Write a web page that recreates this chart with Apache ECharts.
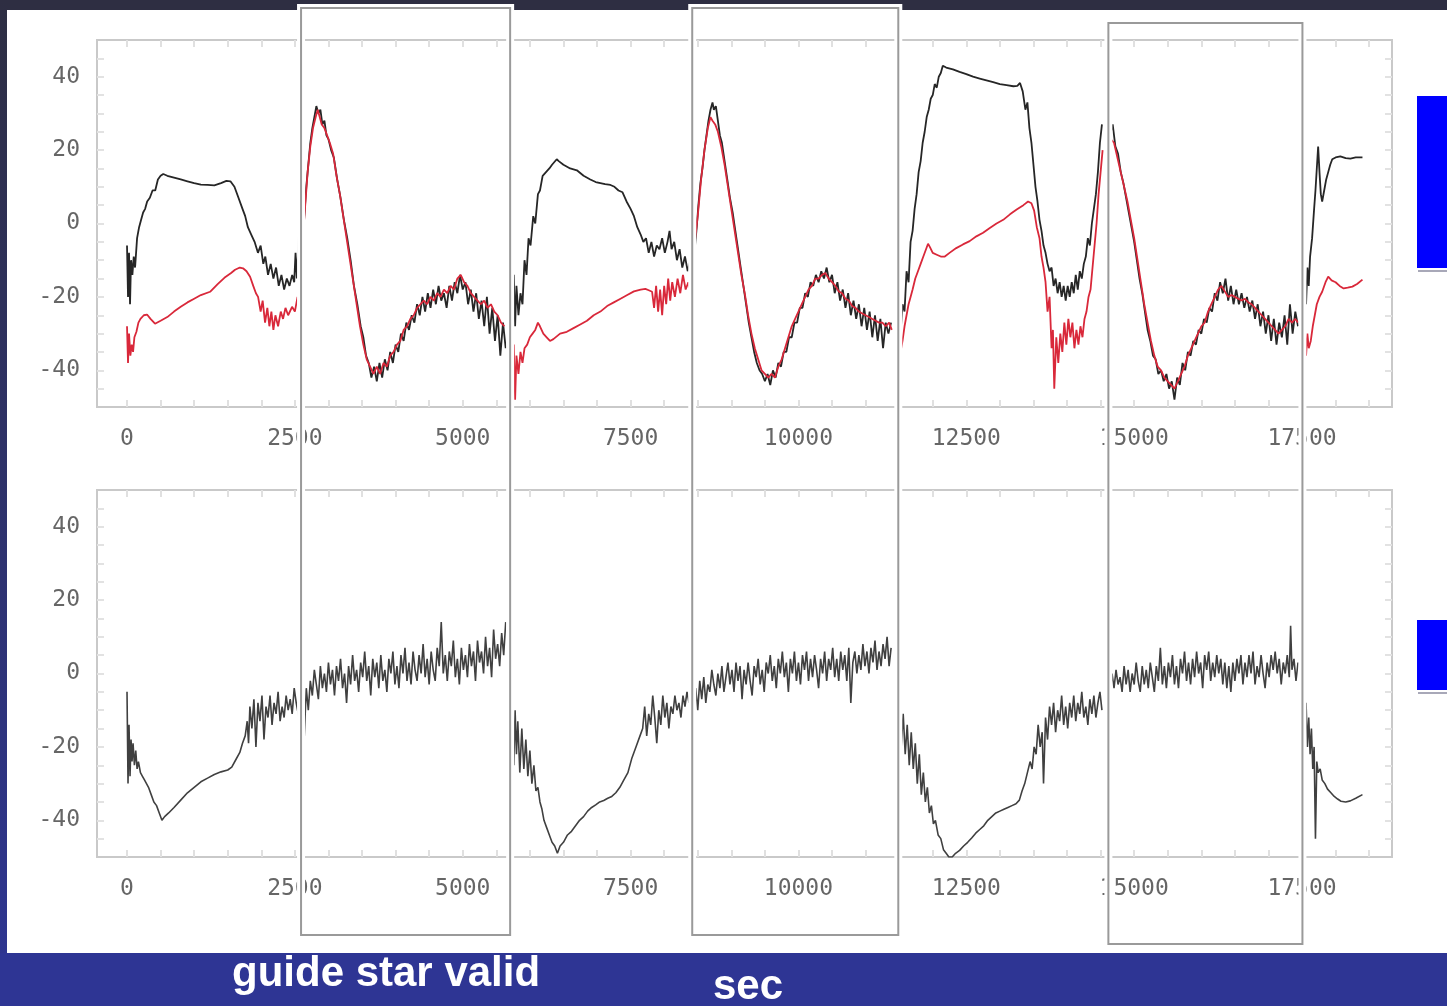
<!DOCTYPE html>
<html><head><meta charset="utf-8">
<script src="https://cdn.jsdelivr.net/npm/echarts@6/dist/echarts.min.js"></script>
<style>html,body{margin:0;padding:0;background:#2e2e42;}#c{width:1447px;height:1006px;}</style>
</head><body><div id="c"></div>
<script>
// ---- axis ticks ----
const xTickLabels = [0, 2500, 5000, 7500, 10000, 12500, 15000, 17500];
const yTickLabels = [-40, -20, 0, 20, 40];
// guide star valid windows (sec)
const validWindows = [[2592, 5706], [8418, 11487], [14616, 17506]];
const footerLabels = ['guide star valid', 'sec'];

// ---- top panel, black trace ----
const topBlack1 = [[0,-6],[15,-20],[30,-8],[45,-22],[60,-10],[80,-14],[100,-9],[120,-12],[150,-4],[180,-1],[210,1],[240,3],[270,4],[300,6],[340,7],[380,9],[420,9],[460,12],[500,13],[540,13.5],[600,13],[700,12.5],[800,12],[900,11.5],[1000,11],[1100,10.6],[1200,10.5],[1300,10.4],[1400,11],[1480,11.6],[1540,11.5],[1600,10],[1660,7],[1720,4],[1760,2],[1800,-1],[1850,-3],[1900,-5],[1950,-8],[1990,-6],[2030,-11],[2060,-9],[2100,-14],[2140,-11],[2180,-15],[2220,-12],[2260,-17],[2300,-14],[2340,-18],[2380,-15],[2420,-17],[2460,-14],[2490,-16],[2510,-8],[2530,-15],[2560,-3],[2580,-10]];
const topBlackBox1 = [[2610,-8],[2640,2],[2670,10],[2700,16],[2730,22],[2760,26],[2790,29],[2820,32],[2850,30],[2880,31],[2910,27],[2940,28],[2970,24],[3000,23],[3040,20],[3080,18],[3130,12],[3180,7],[3230,1],[3280,-4],[3330,-10],[3380,-17],[3430,-22],[3480,-28],[3520,-31],[3560,-36],[3600,-38],[3640,-42],[3680,-39],[3720,-43],[3760,-38],[3800,-42],[3840,-37],[3880,-40],[3920,-35],[3960,-38],[4000,-33],[4040,-35],[4080,-30],[4120,-32],[4160,-27],[4200,-29],[4240,-25],[4280,-27],[4320,-22],[4360,-25],[4400,-20],[4440,-24],[4480,-19],[4520,-23],[4560,-18],[4600,-22],[4640,-17],[4680,-21],[4720,-19],[4760,-23],[4800,-17],[4840,-21],[4880,-16],[4920,-19],[4960,-14],[5000,-18],[5040,-16],[5080,-22],[5120,-18],[5160,-24],[5200,-19],[5240,-26],[5280,-21],[5320,-28],[5360,-20],[5400,-30],[5440,-23],[5480,-32],[5520,-25],[5560,-36],[5600,-27],[5640,-34]];
const topBlack2 = [[5720,-20],[5740,-32],[5760,-14],[5780,-28],[5800,-17],[5830,-25],[5860,-19],[5890,-22],[5920,-10],[5950,-14],[5980,-4],[6010,-6],[6050,2],[6080,0],[6120,8],[6150,9],[6190,13],[6240,14],[6290,15],[6330,16],[6400,17.5],[6430,17],[6500,16],[6600,15],[6700,14.5],[6800,13],[6900,12],[6980,11.3],[7050,11],[7120,10.7],[7200,10.5],[7260,10],[7320,9],[7380,8.5],[7440,6],[7500,4],[7550,2],[7600,-1],[7650,-3],[7690,-5],[7730,-4],[7770,-8],[7810,-5],[7850,-9],[7890,-6],[7930,-7],[7970,-4],[8010,-8],[8050,-5],[8080,-2],[8110,-7],[8150,-5],[8190,-10],[8230,-7],[8270,-12],[8310,-9],[8350,-13],[8390,-10]];
const topBlackBox2 = [[8450,-8],[8480,-2],[8510,5],[8540,11],[8570,15],[8600,20],[8630,24],[8660,28],[8690,31],[8720,33],[8740,31],[8770,32],[8800,28],[8830,24],[8860,22],[8900,17],[8940,12],[8980,7],[9020,3],[9060,-2],[9100,-7],[9140,-12],[9180,-17],[9220,-22],[9260,-27],[9300,-31],[9340,-35],[9380,-38],[9420,-40],[9460,-41],[9500,-43],[9540,-41],[9580,-44],[9620,-40],[9660,-42],[9700,-38],[9740,-39],[9780,-35],[9820,-35],[9860,-31],[9900,-31],[9940,-27],[9980,-27],[10020,-23],[10060,-23],[10100,-19],[10140,-20],[10180,-16],[10220,-17],[10260,-14],[10300,-16],[10340,-13],[10380,-15],[10420,-12],[10460,-16],[10500,-14],[10540,-19],[10580,-16],[10620,-21],[10660,-18],[10700,-23],[10740,-19],[10780,-25],[10820,-21],[10860,-26],[10900,-22],[10940,-28],[10980,-23],[11020,-29],[11060,-24],[11100,-31],[11140,-25],[11180,-32],[11220,-26],[11260,-34],[11300,-27],[11340,-30],[11380,-27]];
const topBlack3 = [[11460,-28],[11490,-18],[11520,-30],[11550,-22],[11580,-24],[11610,-13],[11640,-16],[11670,-5],[11700,-2],[11730,4],[11760,8],[11790,14],[11820,17],[11850,22],[11880,25],[11910,29],[11940,31],[11970,34],[12000,35],[12030,38],[12060,37],[12090,40],[12120,41],[12150,43],[12200,42.5],[12300,42],[12400,41.3],[12500,40.7],[12600,40],[12700,39.5],[12800,39],[12900,38.5],[13000,38],[13100,37.7],[13200,37.4],[13260,37.5],[13300,38.3],[13340,36],[13380,31],[13410,33],[13440,26],[13470,22],[13500,16],[13530,10],[13560,6],[13590,1],[13620,-2],[13650,-6],[13680,-8],[13710,-11],[13740,-13],[13770,-12],[13800,-17],[13830,-15],[13860,-19],[13890,-16],[13920,-20],[13950,-17],[13980,-21],[14010,-17],[14040,-20],[14070,-16],[14100,-19],[14130,-14],[14160,-18],[14190,-13],[14220,-15],[14250,-11],[14280,-9],[14310,-4],[14340,-6],[14370,0],[14400,4],[14430,8],[14460,14],[14490,22],[14520,27]];
const topBlackBox3 = [[14610,28],[14640,24],[14680,27],[14720,21],[14760,19],[14800,14],[14840,11],[14880,7],[14920,3],[14960,-1],[15000,-5],[15040,-10],[15080,-15],[15120,-19],[15160,-24],[15200,-29],[15240,-32],[15280,-36],[15320,-37],[15360,-41],[15400,-40],[15440,-43],[15480,-41],[15520,-45],[15560,-43],[15600,-48],[15640,-42],[15680,-44],[15720,-38],[15760,-40],[15800,-35],[15840,-36],[15880,-32],[15920,-33],[15960,-29],[16000,-30],[16040,-26],[16080,-27],[16120,-23],[16160,-24],[16200,-19],[16240,-21],[16280,-16],[16320,-19],[16360,-15],[16400,-21],[16440,-17],[16480,-22],[16520,-18],[16560,-22],[16600,-19],[16640,-23],[16680,-20],[16720,-24],[16760,-21],[16800,-26],[16840,-22],[16880,-28],[16920,-24],[16960,-30],[17000,-25],[17040,-32],[17080,-26],[17120,-33],[17160,-27],[17200,-31],[17240,-25],[17280,-33],[17320,-22],[17360,-30],[17400,-24],[17440,-28]];
const topBlack4 = [[17520,-20],[17540,-14],[17560,-22],[17580,-12],[17600,-17],[17620,-9],[17650,-4],[17680,4],[17700,9],[17720,15],[17740,21],[17760,14],[17780,8],[17800,6],[17830,9],[17860,12],[17890,14],[17920,16],[17950,17.5],[18000,18],[18070,18.3],[18150,17.8],[18220,17.7],[18300,18],[18400,18]];

// ---- top panel, red trace ----
const topRed1 = [[0,-28],[15,-38],[30,-30],[50,-36],[70,-33],[90,-35],[110,-31],[140,-29.5],[170,-27],[200,-26],[250,-25],[298,-24.8],[350,-26],[417,-27.3],[500,-26.5],[600,-25.5],[700,-24],[800,-22.7],[900,-21.5],[1000,-20.5],[1100,-19.5],[1237,-18.6],[1350,-16.5],[1450,-14.8],[1550,-13.5],[1609,-12.6],[1680,-12],[1728,-12.2],[1780,-13],[1833,-14.5],[1880,-17],[1920,-19],[1952,-20],[1990,-24],[2020,-21],[2056,-27],[2090,-23],[2120,-28],[2150,-24],[2180,-29],[2210,-25],[2250,-28],[2290,-24],[2324,-26],[2360,-23],[2400,-25],[2458,-22.7],[2500,-24],[2540,-20],[2580,-23]];
const topRedBox1 = [[2610,-6],[2650,4],[2690,14],[2730,21],[2770,26],[2810,29],[2840,31],[2870,29],[2900,27],[2940,26],[2980,24],[3020,22],[3070,19],[3120,13],[3170,8],[3220,2],[3270,-4],[3320,-10],[3370,-16],[3420,-22],[3470,-28],[3520,-33],[3570,-37],[3620,-39],[3670,-41],[3720,-39],[3770,-41],[3820,-38],[3870,-39],[3920,-36],[3970,-35],[4020,-33],[4070,-32],[4120,-29],[4170,-28],[4220,-26],[4270,-25],[4320,-23],[4370,-22],[4420,-21],[4470,-22],[4520,-20],[4570,-21],[4620,-19],[4670,-20],[4720,-18],[4770,-19],[4820,-17],[4870,-18],[4920,-15],[4970,-14],[5020,-16],[5070,-17],[5120,-19],[5170,-20],[5220,-21],[5270,-22],[5320,-21],[5370,-23],[5420,-22],[5470,-24],[5520,-25],[5570,-27],[5620,-28]];
const topRed2 = [[5720,-30],[5740,-45],[5760,-33],[5780,-48],[5800,-36],[5830,-41],[5860,-35],[5890,-38],[5920,-34],[5960,-33],[6000,-31],[6040,-30],[6080,-29],[6120,-27],[6150,-28],[6200,-30],[6250,-31],[6300,-32],[6350,-31.5],[6450,-30],[6550,-29.5],[6650,-28.5],[6750,-27.5],[6850,-26.5],[6950,-25],[7050,-24],[7150,-22.5],[7250,-21.5],[7350,-20.5],[7450,-19.5],[7550,-18.5],[7650,-18],[7720,-17.8],[7770,-18.2],[7820,-18.6],[7850,-23],[7880,-17],[7910,-24],[7940,-18],[7970,-25],[8000,-17],[8030,-22],[8060,-15],[8090,-21],[8120,-16],[8160,-20],[8200,-15],[8240,-19],[8280,-14],[8320,-18],[8360,-16],[8400,-19]];
const topRedBox2 = [[8450,-6],[8500,2],[8550,12],[8600,20],[8650,26],[8690,29],[8720,28],[8760,27],[8800,25],[8850,21],[8900,16],[8950,10],[9000,4],[9050,-2],[9100,-8],[9150,-14],[9200,-19],[9250,-25],[9300,-30],[9350,-34],[9400,-37],[9450,-40],[9500,-41],[9550,-42],[9600,-41],[9650,-42],[9700,-39],[9750,-37],[9800,-34],[9850,-31],[9900,-28],[9950,-26],[10000,-24],[10050,-22],[10100,-20],[10150,-18],[10200,-17],[10250,-15],[10300,-15],[10350,-14],[10400,-13.5],[10450,-15],[10500,-16],[10550,-17],[10600,-18.5],[10650,-19],[10700,-20.5],[10750,-21],[10800,-22.5],[10850,-23],[10900,-24],[10950,-24.5],[11000,-25],[11050,-25.5],[11100,-26],[11150,-26.5],[11200,-27],[11250,-27],[11300,-28],[11350,-27],[11390,-29]];
const topRed3 = [[11460,-36],[11490,-30],[11520,-35],[11550,-32],[11580,-28],[11610,-25],[11640,-22],[11670,-20],[11700,-18],[11740,-15],[11780,-13],[11820,-11],[11860,-9],[11900,-7],[11930,-5.5],[11960,-6.5],[12000,-8],[12060,-8.5],[12120,-9],[12180,-9],[12250,-8],[12350,-6.7],[12450,-5.7],[12550,-4.8],[12650,-3.5],[12750,-2.5],[12850,-1.2],[12950,0],[13050,1],[13150,2.5],[13250,3.8],[13350,5],[13420,6],[13470,5.5],[13510,3.5],[13550,-1],[13590,-4],[13620,-9],[13650,-12],[13680,-16],[13710,-24],[13740,-20],[13770,-34],[13790,-29],[13810,-45],[13840,-31],[13870,-38],[13900,-30],[13930,-35],[13960,-27],[13990,-33],[14020,-26],[14050,-31],[14080,-27],[14110,-34],[14140,-29],[14170,-33],[14200,-28],[14230,-31],[14260,-26],[14290,-24],[14320,-20],[14350,-18],[14380,-12],[14410,-6],[14440,0],[14470,8],[14500,14],[14530,20]];
const topRedBox3 = [[14610,25],[14650,23],[14700,22],[14750,18],[14800,14],[14850,10],[14900,6],[14950,1],[15000,-4],[15050,-10],[15100,-16],[15150,-22],[15200,-27],[15250,-32],[15300,-36],[15350,-39],[15400,-40],[15450,-42],[15500,-43],[15550,-44],[15600,-45],[15650,-43],[15700,-41],[15750,-39],[15800,-36],[15850,-34],[15900,-32],[15950,-30],[16000,-28],[16050,-27],[16100,-24],[16150,-22],[16200,-20],[16250,-18],[16300,-17],[16350,-18.5],[16400,-20],[16450,-19.5],[16500,-20],[16550,-20.5],[16600,-21],[16650,-20.5],[16700,-21.5],[16750,-22],[16800,-23],[16850,-24],[16900,-25],[16950,-26],[17000,-27],[17050,-28],[17100,-29],[17150,-30],[17200,-29],[17250,-28],[17300,-26],[17350,-27],[17400,-26],[17440,-27]];
const topRed4 = [[17520,-34],[17540,-28],[17560,-36],[17580,-30],[17600,-34],[17630,-32],[17660,-28],[17690,-25],[17720,-22],[17760,-20],[17800,-18.6],[17850,-16],[17890,-14.5],[17940,-15.5],[18000,-16],[18060,-17],[18120,-17.7],[18180,-17.5],[18250,-17.2],[18320,-16.5],[18400,-15.3]];

// ---- bottom panel trace ----
const bot1 = [[0,-5],[15,-30],[30,-14],[45,-28],[60,-18],[75,-24],[90,-19],[110,-25],[130,-21],[150,-26],[170,-24],[200,-27],[230,-28],[260,-29],[290,-30],[320,-31],[360,-33],[400,-35],[440,-36],[480,-38],[520,-40],[560,-39],[620,-38],[700,-36.5],[800,-34.5],[900,-32.5],[1000,-31],[1100,-29.5],[1200,-28.5],[1300,-27.5],[1400,-26.8],[1500,-26.3],[1560,-25.5],[1620,-23.5],[1680,-21.5],[1720,-19],[1760,-17],[1790,-13],[1810,-19],[1830,-9],[1860,-15],[1890,-7],[1920,-20],[1950,-8],[1980,-13],[2010,-6],[2040,-18],[2070,-9],[2100,-12],[2130,-6],[2160,-14],[2190,-8],[2220,-11],[2250,-5],[2280,-13],[2310,-9],[2340,-12],[2370,-6],[2400,-10],[2430,-7],[2460,-11],[2490,-4],[2520,-8],[2560,-12],[2590,-6]];
const botBox1 = [[2610,-9],[2640,-17],[2670,-4],[2700,-10],[2730,-2],[2760,-6],[2790,1],[2820,-3],[2850,-7],[2880,2],[2910,-4],[2940,0],[2970,-5],[3000,3],[3030,-3],[3060,1],[3090,-6],[3120,2],[3150,-2],[3180,4],[3210,-4],[3240,0],[3270,-8],[3300,2],[3330,-3],[3360,5],[3390,-2],[3420,1],[3450,-5],[3480,3],[3510,-1],[3540,6],[3570,-2],[3600,2],[3630,-6],[3660,4],[3690,-1],[3720,3],[3750,-4],[3780,5],[3810,-2],[3840,1],[3870,-5],[3900,4],[3930,0],[3960,6],[3990,-3],[4020,2],[4050,-4],[4080,5],[4110,0],[4140,7],[4170,-2],[4200,3],[4230,-3],[4260,6],[4290,1],[4320,-2],[4350,5],[4380,0],[4410,8],[4440,-1],[4470,4],[4500,-3],[4530,6],[4560,1],[4590,-2],[4620,7],[4650,2],[4680,14],[4710,0],[4740,5],[4770,-2],[4800,6],[4830,2],[4860,9],[4890,-1],[4920,4],[4950,-3],[4980,7],[5010,1],[5040,5],[5070,-1],[5100,8],[5130,2],[5160,6],[5190,-2],[5220,9],[5250,3],[5280,6],[5310,0],[5340,10],[5370,2],[5400,7],[5430,-1],[5460,12],[5490,4],[5520,8],[5550,2],[5580,11],[5610,5],[5640,14]];
const bot2 = [[5700,-8],[5720,-22],[5740,-5],[5760,-25],[5780,-10],[5800,-22],[5820,-13],[5850,-27],[5880,-15],[5910,-26],[5940,-18],[5970,-28],[6000,-21],[6030,-30],[6060,-25],[6090,-32],[6120,-31],[6150,-35],[6180,-37],[6210,-40],[6250,-42],[6290,-44],[6330,-46],[6370,-47],[6410,-49],[6450,-47],[6500,-46],[6560,-44],[6620,-43],[6680,-41.5],[6740,-40],[6800,-39],[6860,-37.5],[6920,-36.5],[6980,-35.8],[7040,-35],[7100,-34.6],[7160,-34],[7220,-33.5],[7280,-32.5],[7340,-31],[7400,-29],[7460,-27],[7520,-23],[7580,-20],[7640,-17],[7680,-15],[7710,-9],[7740,-17],[7770,-11],[7800,-14],[7830,-6],[7860,-12],[7890,-19],[7920,-10],[7950,-14],[7980,-6],[8010,-12],[8040,-8],[8070,-15],[8100,-9],[8130,-11],[8160,-6],[8190,-10],[8220,-8],[8250,-12],[8280,-6],[8310,-9],[8340,-5],[8370,-8],[8400,-6]];
const botBox2 = [[8440,-12],[8470,-4],[8500,-10],[8530,-2],[8560,-7],[8590,-1],[8620,-8],[8650,-3],[8680,-5],[8710,1],[8740,-3],[8770,-6],[8800,0],[8830,-4],[8860,2],[8890,-5],[8920,-1],[8950,3],[8980,-3],[9010,1],[9040,-5],[9070,3],[9100,-2],[9130,2],[9160,-7],[9190,1],[9220,-3],[9250,3],[9280,-2],[9310,-6],[9340,2],[9370,-1],[9400,4],[9430,-3],[9460,1],[9490,-5],[9520,3],[9550,0],[9580,5],[9610,-2],[9640,2],[9670,-4],[9700,4],[9730,0],[9760,6],[9790,-1],[9820,3],[9850,-5],[9880,4],[9910,0],[9940,6],[9970,-2],[10000,3],[10030,-3],[10060,5],[10090,1],[10120,6],[10150,-2],[10180,4],[10210,-1],[10240,5],[10270,1],[10300,-4],[10330,4],[10360,0],[10390,6],[10420,-2],[10450,4],[10480,1],[10510,7],[10540,-1],[10570,4],[10600,-2],[10630,6],[10660,1],[10690,5],[10720,-2],[10750,7],[10780,-8],[10810,3],[10840,6],[10870,0],[10900,5],[10930,1],[10960,8],[10990,2],[11020,6],[11050,0],[11080,7],[11110,3],[11140,9],[11170,1],[11200,6],[11230,2],[11260,8],[11290,4],[11320,10],[11350,2],[11380,7]];
const bot3 = [[11460,-4],[11480,-16],[11500,-8],[11530,-20],[11560,-11],[11590,-22],[11620,-14],[11650,-25],[11680,-16],[11710,-26],[11740,-19],[11770,-30],[11800,-22],[11830,-33],[11860,-27],[11890,-35],[11920,-31],[11950,-38],[11980,-36],[12010,-41],[12040,-40],[12080,-44],[12120,-45],[12160,-48],[12200,-49],[12240,-50],[12290,-50],[12340,-49],[12400,-48.2],[12460,-47],[12520,-46],[12580,-44.8],[12640,-43.5],[12700,-42.5],[12760,-41.5],[12820,-40],[12880,-39],[12940,-38],[13000,-37.5],[13060,-37],[13120,-36.5],[13180,-36],[13240,-35.5],[13290,-34.5],[13330,-32],[13370,-30],[13410,-27],[13450,-24],[13480,-26],[13510,-20],[13540,-22],[13570,-14],[13600,-20],[13630,-16],[13650,-30],[13680,-12],[13710,-18],[13740,-9],[13770,-14],[13800,-8],[13830,-16],[13860,-10],[13890,-13],[13920,-6],[13950,-14],[13980,-9],[14010,-15],[14040,-8],[14070,-12],[14100,-6],[14130,-13],[14160,-8],[14190,-11],[14220,-5],[14250,-12],[14280,-9],[14310,-14],[14340,-7],[14370,-11],[14400,-6],[14430,-12],[14460,-8],[14490,-5],[14520,-10]];
const botBox3 = [[14610,-3],[14640,-6],[14670,0],[14700,-4],[14730,1],[14760,-3],[14790,-1],[14820,-5],[14850,2],[14880,-3],[14910,1],[14940,-5],[14970,0],[15000,-3],[15030,3],[15060,-2],[15090,-5],[15120,2],[15150,-3],[15180,1],[15210,-4],[15240,3],[15270,-1],[15300,-5],[15330,2],[15360,-2],[15390,7],[15420,-3],[15450,2],[15480,-4],[15510,3],[15540,-1],[15570,5],[15600,-3],[15630,2],[15660,-4],[15690,4],[15720,0],[15750,6],[15780,-2],[15810,3],[15840,-3],[15870,4],[15900,-1],[15930,6],[15960,0],[15990,3],[16020,-4],[16050,5],[16080,1],[16110,6],[16140,-2],[16170,3],[16200,-1],[16230,5],[16260,0],[16290,4],[16320,-3],[16350,3],[16380,-4],[16410,2],[16440,-5],[16470,3],[16500,-2],[16530,4],[16560,0],[16590,5],[16620,-3],[16650,3],[16680,-1],[16710,5],[16740,0],[16770,6],[16800,-3],[16830,2],[16860,-1],[16890,5],[16920,0],[16950,-4],[16980,3],[17010,-1],[17040,5],[17070,1],[17100,6],[17130,0],[17160,4],[17190,-3],[17220,3],[17250,0],[17280,5],[17310,-1],[17330,13],[17350,1],[17380,4],[17410,-2],[17440,3]];
const bot4 = [[17520,-4],[17540,-18],[17560,-8],[17580,-20],[17600,-12],[17620,-22],[17640,-15],[17660,-26],[17680,-20],[17700,-45],[17720,-24],[17740,-27],[17770,-26],[17800,-29],[17840,-30],[17880,-31.5],[17930,-32.5],[17980,-33.5],[18030,-34.2],[18080,-34.8],[18150,-35],[18220,-34.7],[18300,-34],[18400,-33]];

const chart = echarts.init(document.getElementById('c'), null, {renderer: 'canvas'});
const X_MIN = -447, X_MAX = 18840;
const minorX = []; for (let v = 0; v <= 18500; v += 500) minorX.push(v);
const minorY = []; for (let v = -45; v <= 45; v += 5) minorY.push(v);
const labelFont = {color: '#666666', fontFamily: 'DejaVu Sans Mono', fontSize: 23};
function xAx(grid, pos) {
  const bottom = pos === 'bottom';
  return {type: 'value', gridIndex: grid, position: pos, min: X_MIN, max: X_MAX,
    axisLine: {show: false, onZero: false}, splitLine: {show: false},
    axisTick: {show: true, inside: true, length: 7, customValues: minorX, lineStyle: {color: '#e0e0e0', width: 2}},
    axisLabel: bottom ? Object.assign({show: true, margin: 21, customValues: xTickLabels, formatter: v => String(v)}, labelFont) : {show: false}};
}
function yAx(grid, pos) {
  const left = pos === 'left';
  return {type: 'value', gridIndex: grid, position: pos, min: -50, max: 50,
    axisLine: {show: false, onZero: false}, splitLine: {show: false},
    axisTick: {show: true, inside: true, length: 7, customValues: minorY, lineStyle: {color: '#e2e2e2', width: 2}},
    axisLabel: left ? Object.assign({show: true, margin: 17, customValues: yTickLabels, formatter: v => String(v)}, labelFont) : {show: false}};
}
const blackStyle = {color: '#262626', width: 1.8};
const redStyle = {color: '#d9283a', width: 1.8};
const greyStyle = {color: '#404040', width: 1.6};
function ln(data, xi, yi, style, z) {
  return {type: 'line', data: data, xAxisIndex: xi, yAxisIndex: yi, showSymbol: false, symbol: 'none', silent: true,
    lineStyle: style, z: z || 3, animation: false};
}
const series = [];
[topRed1, topRedBox1, topRed2, topRedBox2, topRed3, topRedBox3, topRed4].forEach(d => series.push(ln(d, 0, 0, redStyle, 4)));
[topBlack1, topBlackBox1, topBlack2, topBlackBox2, topBlack3, topBlackBox3, topBlack4].forEach(d => series.push(ln(d, 0, 0, blackStyle, 3)));
[bot1, botBox1, bot2, botBox2, bot3, botBox3, bot4].forEach(d => series.push(ln(d, 2, 2, greyStyle, 3)));

chart.setOption({
  backgroundColor: '#2e2e42',
  animation: false,
  grid: [
    {left: 97, top: 40, width: 1295, height: 367, show: true, borderColor: '#c9c9c9', borderWidth: 2, backgroundColor: 'transparent'},
    {left: 97, top: 490, width: 1295, height: 367, show: true, borderColor: '#c9c9c9', borderWidth: 2, backgroundColor: 'transparent'}
  ],
  xAxis: [xAx(0, 'bottom'), xAx(0, 'top'), xAx(1, 'bottom'), xAx(1, 'top')],
  yAxis: [yAx(0, 'left'), yAx(0, 'right'), yAx(1, 'left'), yAx(1, 'right')],
  series: series
});

const boxY = [[8, 935], [8, 935], [23, 944]];
const footFont = 'bold 42px "Liberation Sans", Arial, sans-serif';
const els = [
  {type: 'rect', z: -20, shape: {x: 0, y: 0, width: 1447, height: 1006}, style: {fill: '#2e2e42'}},
  {type: 'rect', z: -19, shape: {x: 0, y: 0, width: 7, height: 1006},
    style: {fill: new echarts.graphic.LinearGradient(0, 0, 0, 1, [{offset: 0, color: '#2e2e42'}, {offset: 1, color: '#2e3594'}])}},
  {type: 'rect', z: -18, shape: {x: 7, y: 10, width: 1440, height: 943}, style: {fill: '#ffffff'}},
  {type: 'rect', z: -18, shape: {x: 0, y: 953, width: 1447, height: 53}, style: {fill: '#2e3594'}},
  {type: 'rect', z: 10, shape: {x: 1417, y: 96, width: 30, height: 172}, style: {fill: '#0000ff'}},
  {type: 'rect', z: 10, shape: {x: 1418, y: 270, width: 29, height: 2}, style: {fill: '#a8a8b8'}},
  {type: 'rect', z: 10, shape: {x: 1417, y: 620, width: 30, height: 70}, style: {fill: '#0000ff'}},
  {type: 'rect', z: 10, shape: {x: 1418, y: 692, width: 29, height: 2}, style: {fill: '#a8a8b8'}},
  {type: 'text', z: 20, style: {x: 232, y: 974, text: footerLabels[0], fill: '#ffffff', font: footFont, verticalAlign: 'middle'}},
  {type: 'text', z: 20, style: {x: 713, y: 987, text: footerLabels[1], fill: '#ffffff', font: footFont, verticalAlign: 'middle'}}
];
validWindows.forEach((w, i) => {
  const x0 = chart.convertToPixel({xAxisIndex: 0}, w[0]);
  const x1 = chart.convertToPixel({xAxisIndex: 0}, w[1]);
  const y0 = boxY[i][0], y1 = boxY[i][1];
  els.push({type: 'rect', z: 8, shape: {x: x0, y: y0, width: x1 - x0, height: y1 - y0}, style: {fill: null, stroke: '#ffffff', lineWidth: 8}});
  els.push({type: 'rect', z: 9, shape: {x: x0, y: y0, width: x1 - x0, height: y1 - y0}, style: {fill: null, stroke: '#9a9a9a', lineWidth: 2}});
});
chart.setOption({graphic: {elements: els}});
</script></body></html>
